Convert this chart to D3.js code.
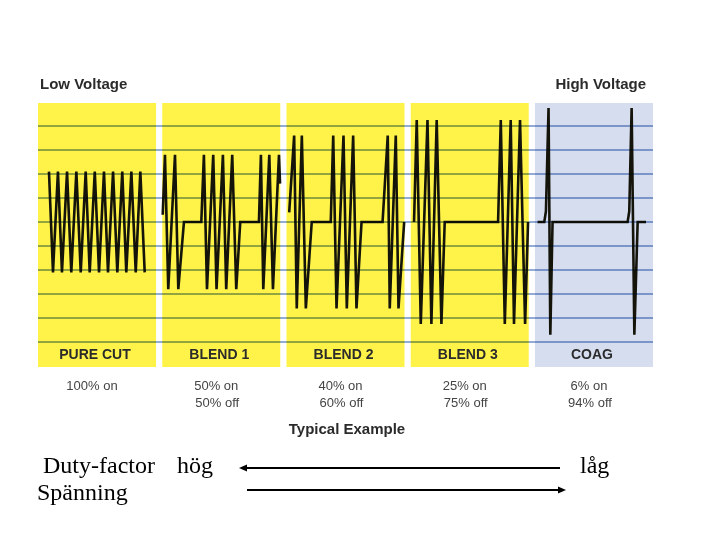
<!DOCTYPE html>
<html>
<head>
<meta charset="utf-8">
<script src="https://cdn.jsdelivr.net/npm/d3@7"></script>
<style>
  html, body { margin: 0; padding: 0; background: #fff; }
  svg { display: block; }
</style>
</head>
<body>
<svg id="chart" width="720" height="540"></svg>
<script>
// ---------------- DATA ----------------
const categories = ["PURE CUT", "BLEND 1", "BLEND 2", "BLEND 3", "COAG"];
const dutyOn  = ["100% on", "50% on", "40% on", "25% on", "6% on"];
const dutyOff = ["", "50% off", "60% off", "75% off", "94% off"];
const gridLevels = [4, 3, 2, 1, 0, -1, -2, -3, -4, -5];
const lowLabel = "Low Voltage";
const highLabel = "High Voltage";
const footerLabel = "Typical Example";
const dutyText = "Duty-factor";
const highText = "hög";
const lowText = "låg";
const voltText = "Spänning";

// waveform vertices: t = time within panel (0..100), v = relative voltage
const pureCutT = [9.3, 12.7, 16.9, 20.3, 24.6, 28.2, 32.5, 36.2, 40.4, 43.8, 48.1, 51.7, 55.9, 59.3, 63.6, 67.2, 71.4, 74.8, 79.1, 82.8, 86.7, 90.4];
const pureCutV = [2.1, -2.1, 2.1, -2.1, 2.1, -2.1, 2.1, -2.1, 2.1, -2.1, 2.1, -2.1, 2.1, -2.1, 2.1, -2.1, 2.1, -2.1, 2.1, -2.1, 2.1, -2.1];

const blend1T = [0.4, 2.3, 5.1, 10.8, 13.6, 18.4, 33.1, 35.3, 37.9, 43.2, 46.0, 51.4, 54.2, 59.3, 62.7, 66.1, 81.9, 83.6, 85.6, 90.7, 93.8, 98.9, 99.8];
const blend1V = [0.3, 2.8, -2.8, 2.8, -2.8, 0, 0, 2.8, -2.8, 2.8, -2.8, 2.8, -2.8, 2.8, -2.8, 0, 0, 2.8, -2.8, 2.8, -2.8, 2.8, 1.6];

const blend2T = [2.3, 6.5, 8.7, 13.0, 16.4, 21.4, 37.5, 39.6, 42.4, 48.3, 51.1, 56.5, 59.3, 63.6, 81.4, 85.8, 87.5, 92.6, 94.9, 99.7];
const blend2V = [0.4, 3.6, -3.6, 3.6, -3.6, 0, 0, 3.6, -3.6, 3.6, -3.6, 3.6, -3.6, 0, 0, 3.6, -3.6, 3.6, -3.6, 0];

const blend3T = [2.8, 5.1, 8.5, 14.2, 17.5, 22.0, 26.0, 28.8, 74.0, 76.3, 79.7, 84.7, 87.5, 92.6, 96.9, 99.4];
const blend3V = [0, 4.25, -4.25, 4.25, -4.25, 4.25, -4.25, 0, 0, 4.25, -4.25, 4.25, -4.25, 4.25, -4.25, 0];

const coagT = [2.2, 7.9, 9.3, 11.5, 13.0, 14.9, 78.5, 79.9, 81.9, 84.2, 87.0, 94.1];
const coagV = [0, 0, 0.45, 4.75, -4.7, 0, 0, 0.45, 4.75, -4.7, 0, 0];

const waveT = [pureCutT, blend1T, blend2T, blend3T, coagT];
const waveV = [pureCutV, blend1V, blend2V, blend3V, coagV];

// ---------------- LAYOUT ----------------
const svg = d3.select("#chart");
const panelTop = 103, panelBottom = 367;

const panelX = d3.scaleBand().domain(categories).range([38, 653]).paddingInner(0.05);
const y = d3.scaleLinear().domain([-5, 4]).range([342, 126]);
const t = d3.scaleLinear().domain([0, 100]).range([0, panelX.bandwidth()]);
const panelFill = d3.scaleOrdinal().domain(categories)
  .range(["#fff34a", "#fff34a", "#fff34a", "#fff34a", "#d6ddef"]);

// panels
svg.append("g").selectAll("rect").data(categories).join("rect")
  .attr("x", d => panelX(d))
  .attr("y", panelTop)
  .attr("width", panelX.bandwidth())
  .attr("height", panelBottom - panelTop)
  .attr("fill", d => panelFill(d));

// waveforms
const line = d3.line().x(d => d.x).y(d => d.y);
categories.forEach((c, i) => {
  const pts = waveT[i].map((tv, k) => ({ x: panelX(c) + t(tv), y: y(waveV[i][k]) }));
  svg.append("path")
    .attr("d", line(pts))
    .attr("fill", "none")
    .attr("stroke", "#14140a")
    .attr("stroke-width", 2.6)
    .attr("stroke-linejoin", "miter")
    .attr("stroke-miterlimit", 10);
});

// grid lines (drawn over, multiplied so they tint olive on yellow)
svg.append("g").style("mix-blend-mode", "multiply")
  .selectAll("line").data(gridLevels).join("line")
  .attr("x1", panelX.range()[0])
  .attr("x2", panelX.range()[1])
  .attr("y1", d => y(d))
  .attr("y2", d => y(d))
  .attr("stroke", "#93acd6")
  .attr("stroke-width", 2);

const sans = "'Liberation Sans', Arial, sans-serif";

// top labels
svg.append("text").attr("x", 40).attr("y", 89).text(lowLabel)
  .attr("font-family", sans).attr("font-weight", "bold").attr("font-size", 15).attr("fill", "#2b2b2b");
svg.append("text").attr("x", 646).attr("y", 89).attr("text-anchor", "end").text(highLabel)
  .attr("font-family", sans).attr("font-weight", "bold").attr("font-size", 15).attr("fill", "#2b2b2b");

// category labels
svg.append("g").selectAll("text").data(categories).join("text")
  .attr("x", d => panelX(d) + panelX.bandwidth() / 2 - 2)
  .attr("y", 359)
  .attr("text-anchor", "middle")
  .attr("font-family", sans).attr("font-weight", "bold").attr("font-size", 14)
  .attr("fill", "#2b2b2b")
  .text(d => d);

// duty text
svg.append("g").selectAll("text").data(categories).join("text")
  .attr("x", d => panelX(d) + panelX.bandwidth() / 2 - 5)
  .attr("y", 389.5)
  .attr("text-anchor", "middle")
  .attr("font-family", sans).attr("font-size", 13).attr("fill", "#444")
  .text((d, i) => dutyOn[i]);
svg.append("g").selectAll("text").data(categories).join("text")
  .attr("x", d => panelX(d) + panelX.bandwidth() / 2 - 4)
  .attr("y", 406.5)
  .attr("text-anchor", "middle")
  .attr("font-family", sans).attr("font-size", 13).attr("fill", "#444")
  .text((d, i) => dutyOff[i]);

svg.append("text").attr("x", 347).attr("y", 434).attr("text-anchor", "middle").text(footerLabel)
  .attr("font-family", sans).attr("font-weight", "bold").attr("font-size", 15).attr("fill", "#2b2b2b");

// bottom serif annotations
const serif = "'Liberation Serif', 'Times New Roman', serif";
const bottom = svg.append("g").attr("font-family", serif).attr("font-size", 24).attr("fill", "#000");
bottom.append("text").attr("x", 43).attr("y", 473).text(dutyText);
bottom.append("text").attr("x", 177).attr("y", 473).text(highText);
bottom.append("text").attr("x", 580).attr("y", 473).text(lowText);
bottom.append("text").attr("x", 37).attr("y", 500).text(voltText);

// arrows
svg.append("line").attr("x1", 244).attr("x2", 560).attr("y1", 468).attr("y2", 468)
  .attr("stroke", "#000").attr("stroke-width", 2);
svg.append("path").attr("d", d3.line()([[239, 468], [247, 464.5], [247, 471.5]]) + "Z").attr("fill", "#000");
svg.append("line").attr("x1", 247).attr("x2", 561).attr("y1", 490).attr("y2", 490)
  .attr("stroke", "#000").attr("stroke-width", 2);
svg.append("path").attr("d", d3.line()([[566, 490], [558, 486.5], [558, 493.5]]) + "Z").attr("fill", "#000");
</script>
</body>
</html>
